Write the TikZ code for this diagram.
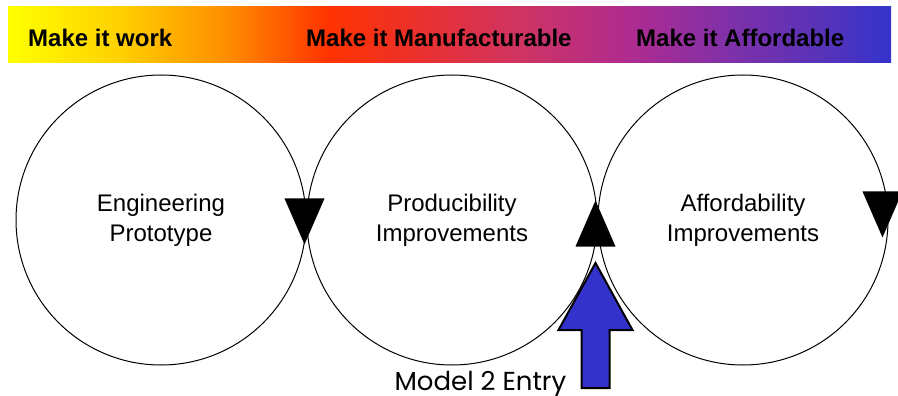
\documentclass[tikz,border=0pt]{standalone}
\usepackage{fontspec}
\setmainfont{Liberation Sans}
\newfontfamily\gothic{Poppins}
\usetikzlibrary{positioning,shapes.geometric}
\pgfdeclarehorizontalshading{phasebar}{100bp}{
    rgb(0bp)=(1,1,0); rgb(25bp)=(1,1,0); rgb(31.25bp)=(1,.82,0); rgb(37.45bp)=(1,.55,0);
    rgb(43.1bp)=(1,.2,0); rgb(48.8bp)=(.91,.19,.2); rgb(54.45bp)=(.8,.2,.4);
    rgb(60.1bp)=(.69,.17,.56); rgb(65.75bp)=(.5,.19,.66); rgb(71.45bp)=(.33,.2,.73);
    rgb(75bp)=(.2,.2,.8); rgb(100bp)=(.2,.2,.8)}
\tikzset{
    bar/.style={shading=phasebar, minimum width=883pt, minimum height=56pt, inner sep=0pt},
    goal/.style={anchor=west, inner sep=0pt, font=\fontsize{24}{28}\selectfont\bfseries},
    phase/.style={circle, draw, line width=1pt, minimum size=290pt, inner sep=0pt,
        align=center, font=\fontsize{24}{30}\selectfont},
    flowdown/.style={isosceles triangle, isosceles triangle stretches, fill=black,
        inner sep=0pt, minimum width=40pt, minimum height=46pt, shape border rotate=-90,
        anchor=apex},
    flowup/.style={flowdown, shape border rotate=90},
    entry/.style={fill={rgb,255:red,51;green,51;blue,204}, draw=black, line width=2pt, line join=miter}
}

\begin{document}
\begin{tikzpicture}[x=1pt,y=-1pt]
\useasboundingbox (0,0) rectangle (898,396);

% top bar
\node[bar] (bar) at (449.5,35) {};
\node[goal] (work) at (28,38) {Make it work};
\node[goal] (manu) at (306,38) {Make it Manufacturable};
\node[goal] (aff) at (636,38) {Make it Affordable};

% phases
\node[phase] (eng) at (161,220) {Engineering\\Prototype};
\node[phase, right=0pt of eng] (prod) {Producibility\\Improvements};
\node[phase, right=0pt of prod] (afford) {Affordability\\Improvements};

\node[flowdown] (t1) at ([xshift=-2pt,yshift=-25pt]eng.east) {};
\node[flowup] (t2) at ([xshift=-2pt,yshift=20pt]prod.east) {};
\node[flowdown] (t3) at ([xshift=-6pt,yshift=-18pt]afford.east) {};

% entry arrow
\coordinate (tip) at ([xshift=-2pt,yshift=-43pt]prod.east);
\draw[entry] (tip) -- ++(37,67) -- ++(-23,0) -- ++(0,58) -- ++(-28,0)
    -- ++(0,-58) -- ++(-23,0) -- cycle;
\node[anchor=base east, inner sep=0pt, font=\gothic\fontsize{26}{30}\selectfont]
    (model) at ([xshift=-29pt]tip |- 0,390) {Model 2 Entry};
\end{tikzpicture}
\end{document}
